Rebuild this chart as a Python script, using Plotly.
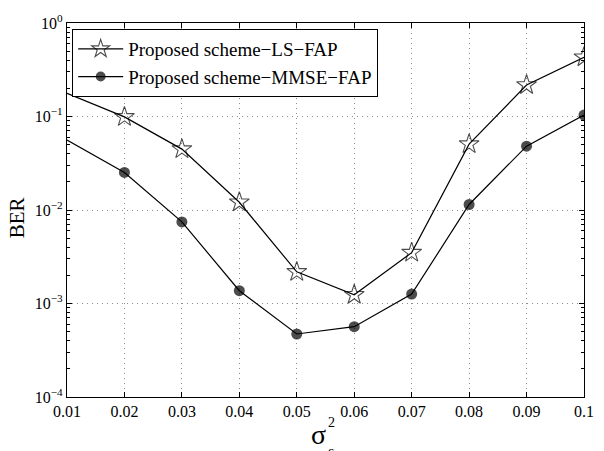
import plotly.graph_objects as go

x_vals = [0.01, 0.02, 0.03, 0.04, 0.05, 0.06, 0.07, 0.08, 0.09, 0.1]
ber_ls = [0.177, 0.099, 0.0448, 0.0121, 0.00218, 0.00124, 0.0035, 0.0506, 0.217, 0.43]
ber_mmse = [0.0559, 0.0252, 0.00746, 0.00137, 0.000472, 0.000565, 0.00126, 0.01145, 0.0482, 0.1035]
names = ["Proposed scheme\u2212LS\u2212FAP", "Proposed scheme\u2212MMSE\u2212FAP"]
x_ticks = [0.01, 0.02, 0.03, 0.04, 0.05, 0.06, 0.07, 0.08, 0.09, 0.1]
x_ticktext = ["0.01", "0.02", "0.03", "0.04", "0.05", "0.06", "0.07", "0.08", "0.09", "0.1"]
y_ticks = [1e-4, 1e-3, 1e-2, 1e-1, 1]
y_ticktext = ["10<sup>\u22124</sup>", "10<sup>\u22123</sup>", "10<sup>\u22122</sup>", "10<sup>\u22121</sup>", "10<sup>0</sup>"]
y_minor = [m * 10.0 ** e for e in range(-4, 0) for m in range(2, 10)]

FONT = "Liberation Serif, Times New Roman, serif"

fig = go.Figure()
fig.add_trace(go.Scatter(
    x=x_vals, y=ber_ls, name=names[0], mode="lines+markers",
    line=dict(color="black", width=1.2),
    marker=dict(symbol="star-open", size=[0] + [15] * (len(x_vals) - 1),
                color="black", line=dict(width=1.1, color="black")),
))
fig.add_trace(go.Scatter(
    x=x_vals, y=ber_mmse, name=names[1], mode="lines+markers",
    line=dict(color="black", width=1.2),
    marker=dict(symbol="circle", size=[0] + [11] * (len(x_vals) - 1), color="black",
                line=dict(width=0, color="black")),
))

axis_common = dict(
    showline=True, linecolor="black", linewidth=1.2, mirror="ticks",
    ticks="inside", ticklen=5, tickcolor="black",
    showgrid=True, gridcolor="#8c8c8c", griddash="1px,4px", gridwidth=1,
    zeroline=False, tickfont=dict(family=FONT, size=16, color="black"),
)

fig.update_xaxes(
    range=[0.01, 0.1], tickvals=x_ticks, ticktext=x_ticktext, **axis_common
)
fig.update_yaxes(
    type="log", range=[-4, 0], tickvals=y_ticks, ticktext=y_ticktext,
    minor=dict(tickvals=y_minor, ticks="inside", ticklen=3, tickcolor="black",
               showgrid=False),
    **axis_common
)

fig.update_layout(
    width=604, height=451,
    margin=dict(l=67, r=10, t=23, b=54),
    paper_bgcolor="white", plot_bgcolor="white",
    font=dict(family=FONT, color="black"),
    showlegend=True,
    legend=dict(
        x=0.010, y=0.984, xanchor="left", yanchor="top",
        bgcolor="white", bordercolor="black", borderwidth=1,
        font=dict(family=FONT, size=19, color="black"),
        tracegroupgap=0, itemwidth=45,
    ),
    annotations=[
        dict(text="BER", xref="paper", yref="paper", x=-0.095, y=0.48,
             xanchor="center", yanchor="middle",
             textangle=-90, showarrow=False, font=dict(family=FONT, size=21)),
        dict(text="\u03c3", xref="paper", yref="paper", x=0.486, y=-0.1,
             xanchor="center", yanchor="middle", showarrow=False,
             font=dict(family=FONT, size=28)),
        dict(text="2", xref="paper", yref="paper", x=0.511, y=-0.068,
             xanchor="center", yanchor="middle", showarrow=False,
             font=dict(family=FONT, size=14)),
        dict(text="\u03b5", xref="paper", yref="paper", x=0.511, y=-0.145,
             xanchor="center", yanchor="middle", showarrow=False,
             font=dict(family=FONT, size=14)),
    ],
)

fig.write_html("out.html")
